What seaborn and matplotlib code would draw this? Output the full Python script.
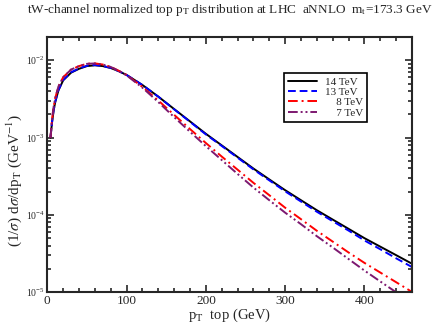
import matplotlib
matplotlib.use("Agg")
import matplotlib.pyplot as plt
import seaborn as sns
import pandas as pd
import numpy as np
from matplotlib.ticker import LogLocator, MultipleLocator, NullFormatter

# top pT (GeV)
pt = [4, 6, 8, 10, 14, 20, 30, 40, 50, 60, 70, 80, 90, 100,
      120, 140, 160, 180, 200, 220, 240, 260, 280, 300, 320,
      340, 360, 380, 400, 420, 440, 460]

# (1/sigma) dsigma/dpT (GeV^-1)
tev14 = [1.00e-3, 1.58e-3, 2.24e-3, 2.88e-3, 4.07e-3, 5.50e-3, 6.92e-3, 7.76e-3,
         8.41e-3, 8.61e-3, 8.41e-3, 7.94e-3, 7.24e-3, 6.46e-3, 4.79e-3, 3.39e-3,
         2.34e-3, 1.62e-3, 1.12e-3, 7.94e-4, 5.62e-4, 3.98e-4, 2.88e-4, 2.09e-4,
         1.55e-4, 1.15e-4, 8.71e-5, 6.61e-5, 5.01e-5, 3.89e-5, 3.02e-5, 2.34e-5]
tev13 = [1.00e-3, 1.60e-3, 2.28e-3, 2.92e-3, 4.12e-3, 5.58e-3, 7.00e-3, 7.85e-3,
         8.50e-3, 8.68e-3, 8.46e-3, 7.97e-3, 7.25e-3, 6.46e-3, 4.78e-3, 3.38e-3,
         2.32e-3, 1.60e-3, 1.10e-3, 7.80e-4, 5.50e-4, 3.88e-4, 2.80e-4, 2.02e-4,
         1.49e-4, 1.10e-4, 8.30e-5, 6.28e-5, 4.68e-5, 3.60e-5, 2.75e-5, 2.12e-5]
tev8 = [1.00e-3, 1.74e-3, 2.51e-3, 3.24e-3, 4.57e-3, 6.03e-3, 7.59e-3, 8.41e-3,
        9.02e-3, 9.12e-3, 8.81e-3, 8.22e-3, 7.33e-3, 6.46e-3, 4.52e-3, 3.02e-3,
        1.97e-3, 1.29e-3, 8.51e-4, 5.69e-4, 3.85e-4, 2.60e-4, 1.80e-4, 1.24e-4,
        8.81e-5, 6.24e-5, 4.52e-5, 3.27e-5, 2.40e-5, 1.80e-5, 1.35e-5, 1.01e-5]
tev7 = [1.00e-3, 1.74e-3, 2.51e-3, 3.24e-3, 4.57e-3, 6.03e-3, 7.59e-3, 8.41e-3,
        9.00e-3, 9.10e-3, 8.80e-3, 8.20e-3, 7.30e-3, 6.38e-3, 4.42e-3, 2.88e-3,
        1.84e-3, 1.19e-3, 7.76e-4, 5.13e-4, 3.39e-4, 2.26e-4, 1.55e-4, 1.07e-4,
        7.59e-5, 5.31e-5, 3.80e-5, 2.69e-5, 1.91e-5, 1.38e-5, 1.00e-5, 7.24e-6]

labels = ["14 TeV", "13 TeV", "\u2007\u20078 TeV", "\u2007\u20077 TeV"]
series = [tev14, tev13, tev8, tev7]

sns.set_style("ticks")
plt.rcParams["font.family"] = ["Liberation Serif", "DejaVu Serif"]
plt.rcParams["mathtext.fontset"] = "stix"

styles = {
    labels[0]: dict(color="black", linestyle="-"),
    labels[1]: dict(color="#0000ff", linestyle=(0, (4, 2))),
    labels[2]: dict(color="#ff0000", linestyle=(0, (5, 2, 1, 2))),
    labels[3]: dict(color="#7d1870", linestyle=(0, (5, 1.5, 1, 1.5, 1, 1.5))),
}

fig = plt.figure(figsize=(4.36, 3.26), dpi=100)
ax = fig.add_axes([0.1085, 0.1034, 0.8365, 0.7831])

for lab, vals in zip(labels, series):
    df = pd.DataFrame({"pt": pt, "val": vals})
    sns.lineplot(data=df, x="pt", y="val", ax=ax, label=lab, linewidth=1.4,
                 **styles[lab])

ax.set_yscale("log")
ax.set_xlim(0, 460)
ax.set_ylim(1e-5, 2e-2)

ax.xaxis.set_major_locator(MultipleLocator(100))
ax.xaxis.set_minor_locator(MultipleLocator(20))
ax.yaxis.set_major_locator(LogLocator(base=10, numticks=10))
ax.yaxis.set_minor_locator(LogLocator(base=10, subs=np.arange(2, 10), numticks=20))
ax.yaxis.set_minor_formatter(NullFormatter())

ax.tick_params(which="both", direction="in", top=True, right=True, width=1.2)
ax.tick_params(which="major", length=5)
ax.tick_params(which="minor", length=3)
ax.tick_params(axis="x", labelsize=9.5, pad=2)
ax.tick_params(axis="y", labelsize=7, pad=2)
for sp in ax.spines.values():
    sp.set_linewidth(1.5)

ax.set_xlabel(r"p$_\mathrm{T}$  top (GeV)", fontsize=10.5, labelpad=0)
ax.set_ylabel(r"(1/$\sigma$) d$\sigma$/dp$_\mathrm{T}$ (GeV$^{-1}$)", fontsize=11)
ax.yaxis.set_label_coords(-0.063, 0.44)
ax.set_title(r"tW-channel normalized top p$_\mathrm{T}$ distribution at LHC  aNNLO  m$_\mathrm{t}$=173.3 GeV",
             fontsize=9.5, pad=17)

leg = ax.legend(loc="upper left", bbox_to_anchor=(0.649, 0.859), fontsize=8,
                frameon=True, fancybox=False, edgecolor="black", framealpha=1,
                handlelength=2.6, handletextpad=0.7, borderpad=0.35,
                labelspacing=0.05, borderaxespad=0)
leg.get_frame().set_linewidth(1.2)

fig.savefig("out.png", dpi=100)
